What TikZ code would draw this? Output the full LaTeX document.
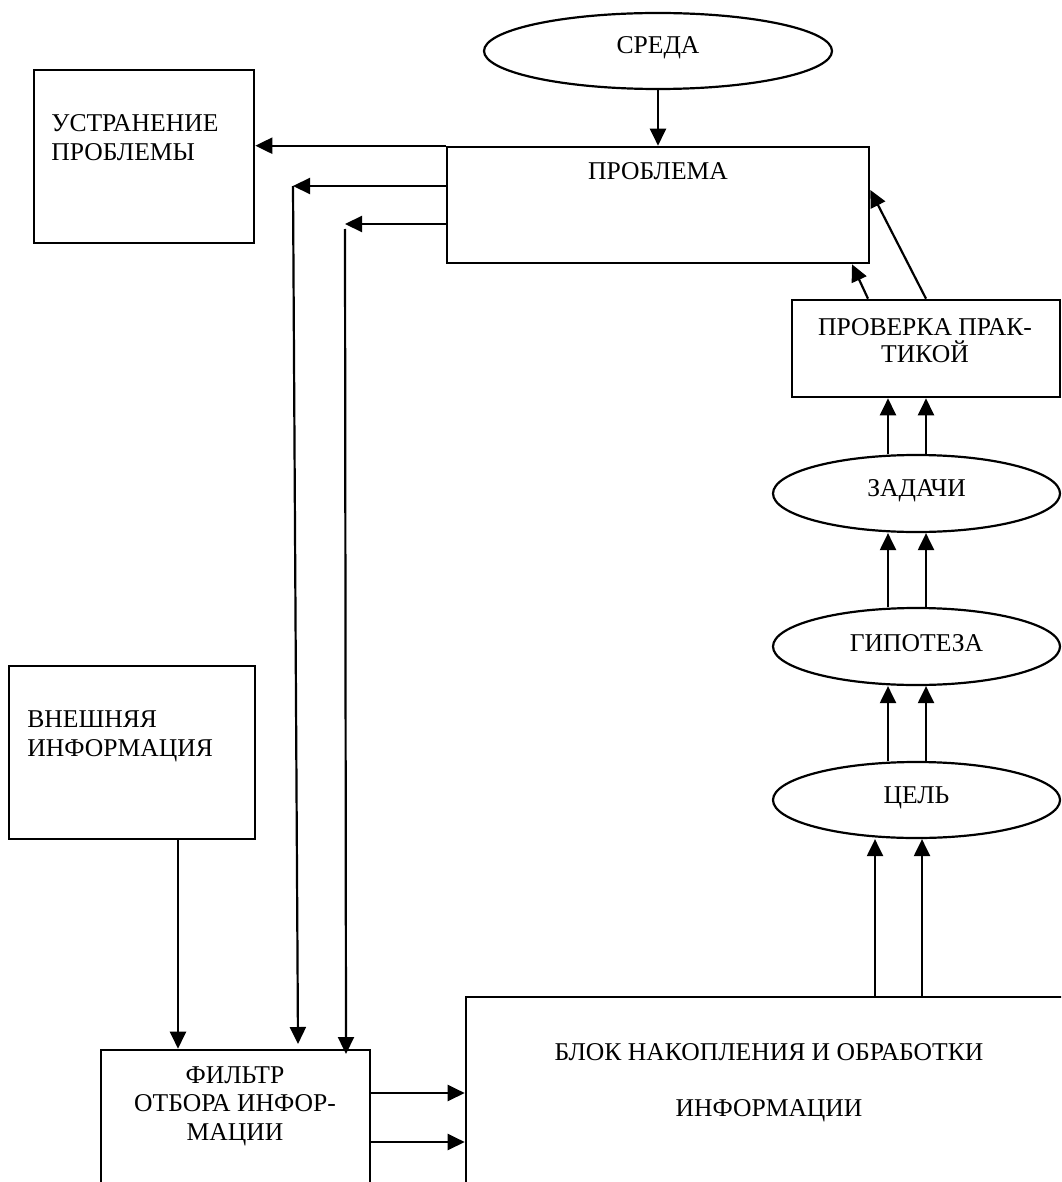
\documentclass[tikz,border=0pt]{standalone}
\usepackage{fontspec}
\setmainfont{Liberation Serif}
\usetikzlibrary{arrows.meta,shapes.geometric}
\begin{document}
\begin{tikzpicture}[x=0.5pt,y=-0.5pt,
  box/.style={draw,line width=1.3pt,rectangle,inner sep=0pt},
  oval/.style={draw,line width=1.1pt,ellipse,inner sep=0pt},
  lbl/.style={inner sep=0pt,font=\fontsize{12.8}{15}\selectfont},
  arr/.style={line width=1.1pt,-{Triangle[length=8.5pt,width=8pt]}}]
\useasboundingbox (0,0) rectangle (1061,1182);
\clip (0,0) rectangle (1061,1182);
% boxes and ovals
\node[oval,minimum width=174pt,minimum height=38pt] (sreda) at (658,51) {};
\node[box,minimum width=211pt,minimum height=58pt] (prob) at (658,205) {};
\node[box,minimum width=110pt,minimum height=86.5pt] (ust) at (144,156.5) {};
\node[box,minimum width=134pt,minimum height=48.5pt] (prov) at (926,348.5) {};
\node[oval,minimum width=143.5pt,minimum height=38.5pt] (zad) at (916.5,493.5) {};
\node[oval,minimum width=143.5pt,minimum height=38.5pt] (gip) at (916.5,646.5) {};
\node[oval,minimum width=143.5pt,minimum height=38pt] (cel) at (916.5,800) {};
\node[box,minimum width=123pt,minimum height=86.5pt] (vn) at (132,752.5) {};
\node[box,minimum width=134.5pt,minimum height=75pt] (filt) at (235.5,1125) {};
\node[box,minimum width=302pt,minimum height=101.5pt] (blok) at (768,1098.5) {};
% texts
\node[lbl,anchor=base] (sredat) at (658,54) {СРЕДА};
\node[lbl,anchor=base] (probt) at (658,180) {ПРОБЛЕМА};
\node[lbl,anchor=base west] (ustt1) at (51,132) {УСТРАНЕНИЕ};
\node[lbl,anchor=base west] (ustt2) at (51,161) {ПРОБЛЕМЫ};
\node[lbl,anchor=base] (provt1) at (925,335) {ПРОВЕРКА ПРАК-};
\node[lbl,anchor=base] (provt2) at (925,362) {ТИКОЙ};
\node[lbl,anchor=base] (zadt) at (916.5,496) {ЗАДАЧИ};
\node[lbl,anchor=base] (gipt) at (916.5,651) {ГИПОТЕЗА};
\node[lbl,anchor=base] (celt) at (916.5,803) {ЦЕЛЬ};
\node[lbl,anchor=base west] (vnt1) at (27,727) {ВНЕШНЯЯ};
\node[lbl,anchor=base west] (vnt2) at (27,756) {ИНФОРМАЦИЯ};
\node[lbl,anchor=base] (filtt1) at (235,1083) {ФИЛЬТР};
\node[lbl,anchor=base] (filtt2) at (235,1111) {ОТБОРА ИНФОР-};
\node[lbl,anchor=base] (filtt3) at (235,1140) {МАЦИИ};
\node[lbl,anchor=base] (blokt1) at (769,1060) {БЛОК НАКОПЛЕНИЯ И ОБРАБОТКИ};
\node[lbl,anchor=base] (blokt2) at (769,1116) {ИНФОРМАЦИИ};
% helper coordinates
\coordinate (k2) at (293,186);
\coordinate (d2) at (298,1044);
\coordinate (k3) at (345,224);
\coordinate (k3b) at (345,229);
\coordinate (d3) at (346,1054);
\coordinate (xv) at (178,0);
\coordinate (y1) at (0,1093);
\coordinate (y2) at (0,1142);
\coordinate (xa) at (875,0);
\coordinate (xb) at (922,0);
\coordinate (xc) at (888,0);
\coordinate (xd) at (926,0);
\coordinate (xe) at (868,0);
\coordinate (xf) at (852,0);
\coordinate (y190) at (0,190);
% connectors
\draw[arr] (sreda.south) -- (prob.north);
\draw[arr] (prob.north west) -- (ust.east |- prob.north west);
\draw[arr] (prob.west |- k2) -- (k2);
\draw[arr] (k2) -- (d2);
\draw[arr] (prob.west |- k3) -- (k3);
\draw[arr] (k3b) -- (d3);
\draw[arr] (xv |- vn.south) -- (xv |- filt.north);
\draw[arr] (filt.east |- y1) -- (blok.west |- y1);
\draw[arr] (filt.east |- y2) -- (blok.west |- y2);
\draw[arr] (xa |- blok.north) -- (xa |- cel.south);
\draw[arr] (xb |- blok.north) -- (xb |- cel.south);
\draw[arr] (xc |- cel.north) -- (xc |- gip.south);
\draw[arr] (xd |- cel.north) -- (xd |- gip.south);
\draw[arr] (xc |- gip.north) -- (xc |- zad.south);
\draw[arr] (xd |- gip.north) -- (xd |- zad.south);
\draw[arr] (xc |- zad.north) -- (xc |- prov.south);
\draw[arr] (xd |- zad.north) -- (xd |- prov.south);
\draw[arr] (xe |- prov.north) -- (xf |- prob.south);
\draw[arr] (xd |- prov.north) -- (prob.east |- y190);
\end{tikzpicture}
\end{document}
